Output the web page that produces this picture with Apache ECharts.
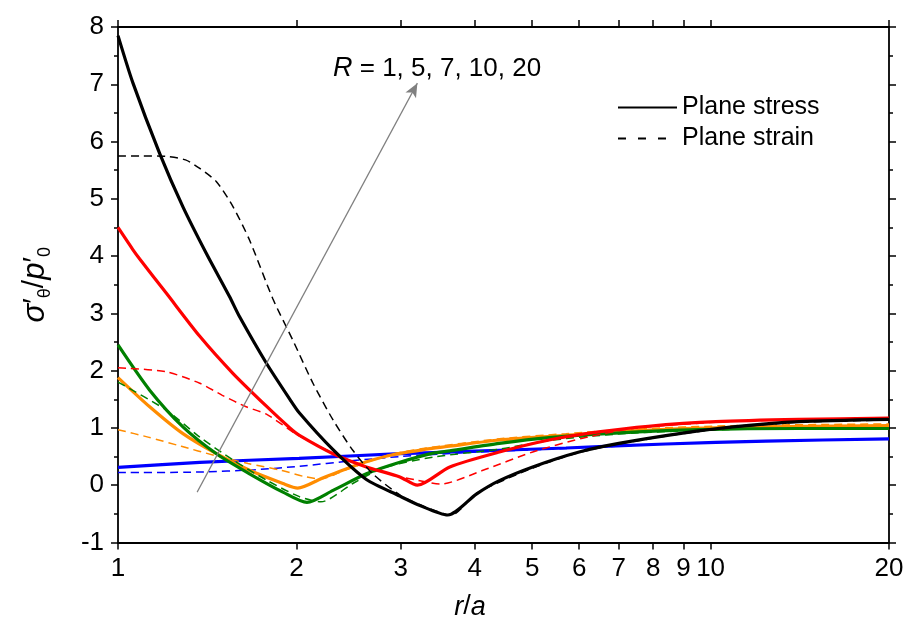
<!DOCTYPE html>
<html>
<head>
<meta charset="utf-8">
<script src="https://cdn.jsdelivr.net/npm/echarts@6/dist/echarts.min.js"></script>
<style>html,body{margin:0;padding:0;background:#fff}#c{width:909px;height:628px}</style>
</head>
<body>
<div id="c"></div>
<script>
// ---- data (r/a values, sigma'_theta/p'_0 values) ----
const xTicks = [1, 2, 3, 4, 5, 6, 7, 8, 9, 10, 20];

// R = 1 (blue)
const rBlueStress = [1, 1.374, 2.02, 2.99, 3.87, 5.7, 8.4, 12.4, 20];
const vBlueStress = [0.31, 0.40, 0.47, 0.55, 0.59, 0.65, 0.72, 0.77, 0.81];
const rBlueStrain = [1, 1.374, 1.7, 2.02, 2.5, 2.99, 3.87, 5.7, 8.4, 12.4, 20];
const vBlueStrain = [0.22, 0.23, 0.27, 0.33, 0.43, 0.50, 0.57, 0.64, 0.72, 0.77, 0.81];

// R = 5 (orange)
const rOrangeStress = [1, 1.131, 1.287, 1.466, 1.667, 1.898, 2.01, 2.22, 2.52, 2.87, 3.27, 3.63, 4.4, 5.7, 7.4, 10.9, 20];
const vOrangeStress = [1.88, 1.37, 0.90, 0.55, 0.26, 0.03, -0.05, 0.13, 0.35, 0.52, 0.62, 0.68, 0.79, 0.87, 0.95, 1.01, 1.04];
const rOrangeStrain = [1, 1.124, 1.279, 1.456, 1.657, 1.886, 2.065, 2.2, 2.4, 2.87, 3.27, 4.4, 5.7, 7.4, 10.9, 20];
const vOrangeStrain = [0.97, 0.84, 0.68, 0.52, 0.38, 0.26, 0.15, 0.11, 0.25, 0.53, 0.64, 0.81, 0.90, 0.98, 1.04, 1.07];

// R = 7 (green)
const rGreenStress = [1, 1.131, 1.287, 1.466, 1.667, 1.898, 2.084, 2.306, 2.625, 2.99, 3.4, 3.63, 4.4, 5.34, 6.9, 9.6, 14.1, 20];
const vGreenStress = [2.45, 1.66, 1.02, 0.55, 0.20, -0.12, -0.30, -0.09, 0.20, 0.40, 0.56, 0.60, 0.73, 0.83, 0.91, 0.97, 0.99, 0.99];
const rGreenStrain = [1, 1.207, 1.374, 1.564, 1.78, 2.024, 2.2, 2.49, 2.8, 3.4, 4.4, 5.34, 6.9, 9.6, 14.1, 20];
const vGreenStrain = [1.80, 1.31, 0.84, 0.44, 0.09, -0.20, -0.29, 0.03, 0.30, 0.49, 0.63, 0.78, 0.89, 0.96, 0.99, 0.99];

// R = 10 (red)
const rRedStress = [1, 1.06, 1.088, 1.207, 1.374, 1.564, 1.78, 1.95, 2.024, 2.306, 2.625, 2.99, 3.2, 3.63, 4.4, 5.34, 6.47, 7.85, 10.2, 14.1, 20];
const vRedStress = [4.50, 4.11, 3.95, 3.35, 2.60, 1.95, 1.38, 1.00, 0.87, 0.55, 0.32, 0.145, 0.0, 0.32, 0.58, 0.79, 0.93, 1.03, 1.11, 1.15, 1.17];
const rRedStrain = [1, 1.046, 1.207, 1.374, 1.5, 1.645, 1.78, 2.0, 2.306, 2.625, 2.99, 3.19, 3.5, 4.13, 5.01, 6.08, 7.4, 10.2, 14.1, 20];
const vRedStrain = [2.05, 2.04, 1.98, 1.78, 1.57, 1.37, 1.24, 0.89, 0.56, 0.32, 0.15, 0.09, 0.02, 0.26, 0.58, 0.82, 0.99, 1.10, 1.15, 1.17];

// R = 20 (black)
const rBlackStress = [1, 1.06, 1.176, 1.287, 1.409, 1.543, 1.604, 1.78, 1.95, 2.024, 2.306, 2.625, 2.99, 3.224, 3.6, 4.03, 4.4, 5.01, 6.0, 7.0, 8.97, 10.9, 14.1, 20];
const vBlackStress = [7.85, 7.02, 5.79, 4.86, 4.05, 3.29, 2.94, 2.13, 1.50, 1.26, 0.62, 0.10, -0.19, -0.35, -0.52, -0.15, 0.08, 0.32, 0.58, 0.73, 0.91, 1.02, 1.11, 1.15];
const rBlackStrain = [1, 1.1, 1.207, 1.3, 1.374, 1.466, 1.564, 1.667, 1.826, 1.973, 2.133, 2.306, 2.49, 2.69, 3.0, 3.3, 3.65, 4.03, 5.01, 6.0, 7.0, 8.97, 10.9, 14.1, 20];
const vBlackStrain = [5.75, 5.75, 5.74, 5.68, 5.53, 5.30, 4.86, 4.28, 3.25, 2.53, 1.78, 1.14, 0.61, 0.20, -0.18, -0.38, -0.52, -0.14, 0.30, 0.57, 0.72, 0.90, 1.01, 1.10, 1.14];

// annotation arrow (data space)
const arrowStart = [1.36, -0.12];
const arrowEnd = [3.2, 7.02];

const colors = { blue: '#0000ff', orange: '#ff8c00', green: '#008000', red: '#ff0000', black: '#000000' };

function pairs(r, v) { return r.map((x, i) => [x, v[i]]); }

const curves = [
  ['blue', rBlueStrain, vBlueStrain, true], ['blue', rBlueStress, vBlueStress, false],
  ['orange', rOrangeStrain, vOrangeStrain, true], ['orange', rOrangeStress, vOrangeStress, false],
  ['green', rGreenStrain, vGreenStrain, true], ['green', rGreenStress, vGreenStress, false],
  ['red', rRedStrain, vRedStrain, true], ['red', rRedStress, vRedStress, false],
  ['black', rBlackStrain, vBlackStrain, true], ['black', rBlackStress, vBlackStress, false]
];

const FONT = 'Liberation Sans, Arial, sans-serif';
const series = curves.map(([c, r, v, dashed]) => ({
  type: 'line', name: c + (dashed ? ' strain' : ' stress'),
  data: pairs(r, v), showSymbol: false, symbol: 'none', smooth: 0.25,
  lineStyle: { color: colors[c], width: dashed ? 1.5 : 3.2, type: dashed ? [8, 5] : 'solid' },
  silent: true, z: 2
}));
// legend series
series.push({ type: 'line', name: 'Plane stress', data: [], symbol: 'none', lineStyle: { color: '#000', width: 3 }, itemStyle: { color: '#000', opacity: 0 } });
series.push({ type: 'line', name: 'Plane strain', data: [], symbol: 'none', lineStyle: { color: '#000', width: 1.5, type: [8, 12] }, itemStyle: { color: '#000', opacity: 0 } });
// arrow
series.push({
  type: 'line', data: [], symbol: 'none', silent: true,
  markLine: {
    silent: true, symbol: ['none', 'arrow'], symbolSize: [9, 14], animation: false,
    label: { show: false },
    lineStyle: { color: '#808080', width: 1.2, type: 'solid' },
    data: [[{ coord: arrowStart }, { coord: arrowEnd }]]
  }
});

const axisLineStyle = { color: '#000', width: 1.8 };
const xCommon = {
  type: 'log', logBase: 10, min: 1, max: 20,
  axisLine: { show: true, onZero: false, lineStyle: axisLineStyle },
  axisTick: { show: true, inside: false, length: 7, lineStyle: { color: '#000', width: 1.5 }, customValues: xTicks },
  splitLine: { show: false }, minorTick: { show: false }
};
const yCommon = {
  type: 'value', min: -1, max: 8, interval: 1,
  axisLine: { show: true, onZero: false, lineStyle: axisLineStyle },
  axisTick: { show: true, inside: false, length: 7, lineStyle: { color: '#000', width: 1.5 } },
  minorTick: { show: true, splitNumber: 2, length: 4, lineStyle: { color: '#000', width: 1.5 } },
  splitLine: { show: false }
};

const option = {
  animation: false,
  backgroundColor: '#fff',
  grid: { left: 118, right: 20, top: 27, bottom: 85.5, containLabel: false },
  legend: {
    data: ['Plane stress', 'Plane strain'],
    orient: 'vertical', left: 612, top: 90,
    itemWidth: 59, itemHeight: 16, itemGap: 6,
    itemStyle: { opacity: 0 },
    textStyle: { fontFamily: FONT, fontSize: 25, color: '#000' }, selectedMode: false
  },
  xAxis: [
    Object.assign({}, xCommon, {
      position: 'bottom',
      axisLabel: { show: true, margin: 13, fontFamily: FONT, fontSize: 26, color: '#000', customValues: xTicks, formatter: v => String(Math.round(v)) },
      name: '{i|r}/{i|a}', nameLocation: 'middle', nameGap: 51,
      nameTextStyle: { fontFamily: FONT, fontSize: 27, color: '#000', padding: [0, 67, 0, 0], rich: { i: { fontStyle: 'italic', fontFamily: FONT, fontSize: 27 } } }
    }),
    Object.assign({}, xCommon, { position: 'top', axisLabel: { show: false } })
  ],
  yAxis: [
    Object.assign({}, yCommon, {
      position: 'left',
      axisLabel: { show: true, margin: 14, fontFamily: FONT, fontSize: 26, color: '#000' },
      name: '{i|σ}{n|′}{s|θ}{n|/}{i|p}{n|′}{s|0}', nameLocation: 'middle', nameGap: 64, nameRotate: 90,
      nameTextStyle: {
        fontFamily: FONT, fontSize: 30, color: '#000',
        rich: {
          i: { fontStyle: 'italic', fontFamily: FONT, fontSize: 31, lineHeight: 38, verticalAlign: 'middle' },
          n: { fontFamily: FONT, fontSize: 30, lineHeight: 38, verticalAlign: 'middle' },
          s: { fontFamily: FONT, fontSize: 18, lineHeight: 38, verticalAlign: 'bottom' }
        }
      }
    }),
    Object.assign({}, yCommon, { position: 'right', axisLabel: { show: false } })
  ],
  graphic: [{
    type: 'text', left: 333, top: 55,
    style: {
      text: '{i|R} = 1, 5, 7, 10, 20', fill: '#000', font: '26px ' + FONT,
      rich: { i: { fontStyle: 'italic', fontSize: 27, fontFamily: FONT } }
    }
  }],
  series: series
};
const chart = echarts.init(document.getElementById('c'), null, { renderer: 'canvas' });
chart.setOption(option);
</script>
</body>
</html>
